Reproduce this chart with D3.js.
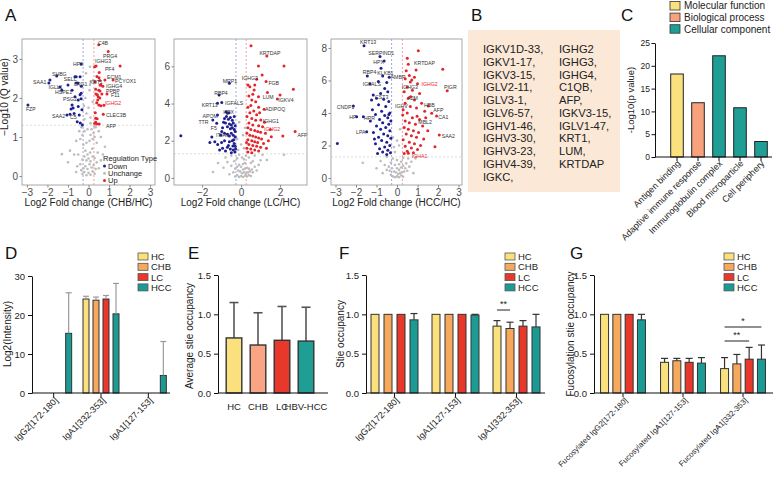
<!DOCTYPE html>
<html><head><meta charset="utf-8">
<script src="https://cdn.jsdelivr.net/npm/d3@7"></script>
<style>body{margin:0;background:#fff}svg{display:block;font-family:"Liberation Sans",Arial,sans-serif}</style>
</head><body><svg id="c" width="777" height="478"></svg>
<script>
// ---------------- DATA ----------------
// Volcano 1: CHB/HC  [log2FC, -log10Q]
const v1Down = [[-2.95,1.82],[-1.88,2.46],[-1.93,2.38],[-1.55,2.56],[-1.4,2.28],[-1.0,2.33],[-1.3,2.2],[-0.8,2.2],[-0.66,2.54],[-0.6,2.54],[-0.41,2.54],[-0.52,2.38],[-0.36,2.87],[-0.66,2.03],[-0.41,2.08],[-0.5,1.95],[-0.8,1.82],[-0.75,1.74],[-0.85,1.72],[-0.5,1.78],[-1.05,1.56],[-0.9,1.58],[-0.55,1.39],[-0.4,1.36],[-0.3,1.31],[-0.45,1.56],[-0.36,2.12],[-0.36,1.98],[-0.6,2.38],[-0.35,2.3],[-0.7,1.6],[-0.32,1.7]];
const v1Up = [[0.5,3.36],[0.96,3.19],[1.54,2.82],[0.37,2.82],[0.3,2.8],[0.52,2.65],[0.41,2.55],[0.8,2.46],[0.51,2.52],[0.55,2.45],[1.2,2.46],[0.32,2.41],[0.56,2.33],[0.7,2.3],[0.35,2.22],[0.5,2.2],[0.56,2.18],[0.36,2.1],[0.9,2.1],[0.43,2.08],[0.55,2.0],[0.45,1.95],[0.4,1.88],[0.5,1.82],[0.6,1.8],[0.75,1.81],[0.72,1.58],[0.35,1.48],[0.42,1.47],[0.35,1.38],[0.52,1.33],[0.4,1.33],[0.3,1.35],[0.47,2.03],[0.6,2.33],[0.33,1.62],[0.65,2.1]];
const v1Gray = [[-0.3,0.05],[-0.2,0.1],[-0.1,0.02],[0,0.08],[0.1,0.03],[0.2,0.12],[0.3,0.06],[-0.25,0.2],[-0.15,0.25],[-0.05,0.18],[0.05,0.3],[0.15,0.22],[0.25,0.28],[-0.35,0.15],[0.35,0.18],[-0.4,0.3],[0.4,0.35],[-0.1,0.4],[0,0.45],[0.1,0.38],[-0.2,0.5],[0.2,0.5],[-0.3,0.42],[0.3,0.46],[-0.05,0.55],[0.08,0.6],[-0.15,0.65],[0.18,0.7],[-0.5,0.55],[0.45,0.6],[-0.55,0.25],[0.5,0.2],[-0.6,0.1],[0.6,0.4],[-0.7,0.55],[0.7,0.55],[-0.9,0.65],[-1.0,0.35],[0.8,0.75],[-0.25,0.8],[-0.1,0.85],[0.05,0.9],[0.2,0.95],[0.3,1.0],[-0.3,1.05],[0.25,1.1],[-0.2,1.15],[0.15,1.2],[-0.35,1.25],[0.35,1.25],[0.4,0.85],[-0.4,0.95],[-0.6,0.9],[0.6,1.0],[-1.3,0.56],[0.5,1.15],[-0.45,1.15],[0.28,1.28],[0.1,1.05],[-0.05,1.2],[-0.2,1.45],[-0.1,1.6],[0,1.75],[0.1,1.5],[0.2,1.9],[-0.15,2.0],[0.05,2.2],[0.07,2.33],[-0.12,2.63],[0.07,2.8],[0.22,2.45],[-0.22,1.8],[0.1,1.35]];
const v1Labels = [["C4B",0.46,3.41,0],["PRG4",0.71,3.08,0],["IGHG3",0.32,2.95,0],["PF4",0.8,2.74,0],["ECM1",0.9,2.53,0],["PCYOX1",1.29,2.44,0],["KRT1",0.05,2.42,0],["IGHG4",0.85,2.3,0],["PPBP",0.85,2.18,0],["F11",1.1,2.07,0],["IGHG2",0.8,1.87,1],["CLEC3B",0.85,1.56,0],["AFP",0.85,1.28,0],["HPX",-0.76,2.87,0],["SHBG",-1.78,2.62,0],["SELL",-1.2,2.48,0],["SAA1",-2.7,2.41,0],["IGLL1",-1.95,2.28,0],["LRG1",-0.71,2.36,0],["HSPE1",-1.63,2.15,0],["PSG2",-1.24,1.97,0],["FZP",-3.05,1.72,0],["SAA2",-1.78,1.54,0],["C5",-0.9,1.51,0]];

// Volcano 2: LC/HC
const v2Down = [[-3.09,2.27],[-0.6,5.09],[-1.13,4.46],[-1.21,4.01],[-0.99,4.05],[-0.77,3.56],[-0.7,3.48],[-0.62,3.5],[-1.21,3.39],[-1.45,3.12],[-1.25,2.94],[-0.99,2.49],[-0.85,3.2],[-0.75,3.3],[-0.65,3.15],[-0.55,3.25],[-0.45,3.1],[-0.9,3.0],[-0.8,2.95],[-0.6,2.9],[-0.5,2.85],[-0.4,2.95],[-0.35,3.3],[-0.95,2.7],[-0.7,2.75],[-0.55,2.65],[-0.45,2.7],[-0.35,2.6],[-0.3,2.8],[-1.05,2.3],[-0.85,2.4],[-0.7,2.35],[-0.6,2.25],[-0.5,2.4],[-0.4,2.3],[-0.3,2.2],[-1.5,2.2],[-1.6,1.9],[-1.35,1.95],[-1.2,1.8],[-1.0,1.9],[-0.85,2.0],[-0.6,1.95],[-0.45,2.0],[-0.35,1.85],[-0.3,1.7],[-0.95,1.6],[-0.7,1.65],[-0.55,1.55],[-0.4,1.5],[-0.32,1.4],[-0.8,1.45],[-1.1,1.5],[-0.5,1.35],[-0.65,1.75],[-0.42,1.72],[-0.3,2.5],[-0.38,2.05],[-0.28,1.55]];
const v2Up = [[0.51,7.11],[1.32,6.56],[2.2,6.02],[0.89,6.02],[0.8,5.3],[1.08,5.54],[1.28,5.18],[2.68,4.77],[2.0,4.46],[0.67,4.73],[0.89,4.37],[1.86,4.25],[0.55,4.19],[1.18,3.69],[1.01,3.12],[2.77,2.49],[2.14,2.26],[1.55,2.22],[0.35,5.0],[0.45,4.9],[0.7,5.0],[0.6,4.5],[0.4,4.4],[0.75,4.1],[0.5,3.9],[0.35,3.8],[0.9,3.8],[0.65,3.6],[0.45,3.5],[0.8,3.4],[0.3,3.3],[0.55,3.2],[0.75,3.1],[1.2,3.0],[0.4,2.95],[0.6,2.85],[0.9,2.8],[1.1,2.75],[0.35,2.7],[0.5,2.6],[0.7,2.55],[0.85,2.5],[1.0,2.45],[1.25,2.4],[0.3,2.4],[0.45,2.3],[0.6,2.25],[0.75,2.2],[0.9,2.15],[1.05,2.1],[0.35,2.05],[0.55,2.0],[0.7,1.95],[0.85,1.9],[1.15,1.85],[0.4,1.8],[0.6,1.75],[0.8,1.7],[1.0,1.65],[0.3,1.6],[0.5,1.55],[0.7,1.5],[0.9,1.45],[0.35,1.4],[0.55,1.35],[1.3,1.6],[1.4,2.0],[1.5,2.6],[0.28,1.9],[0.95,3.5],[1.35,4.6]];
const v2Gray = [[-0.1,0.05],[0,0.1],[0.1,0.05],[0.2,0.12],[0.3,0.08],[0.4,0.15],[0.5,0.1],[-0.2,0.15],[-0.3,0.08],[0.05,0.25],[0.15,0.3],[0.25,0.22],[0.35,0.3],[0.45,0.35],[-0.05,0.35],[-0.15,0.4],[0.1,0.45],[0.2,0.5],[0.3,0.55],[0.4,0.5],[0.55,0.45],[0.6,0.3],[0,0.6],[-0.1,0.7],[0.1,0.75],[0.2,0.8],[-0.2,0.6],[-0.3,0.5],[-0.4,0.3],[0.7,0.6],[0.8,0.4],[-0.5,0.65],[0.5,0.8],[0.6,0.9],[-0.35,0.9],[0.15,1.0],[0.05,1.1],[-0.2,1.05],[0.25,1.2],[0.4,1.1],[-0.1,1.25],[0.9,0.7],[1.0,0.95],[1.32,0.97],[-0.7,0.85],[-0.9,0.55],[-1.18,0.8],[-1.44,0.32],[-0.6,0.2],[-0.8,1.1],[-0.5,1.2],[0.7,1.2],[1.1,1.25],[2.2,1.24],[-0.15,1.5],[0,1.8],[0.1,2.3],[-0.2,2.1],[0.2,2.7],[-0.1,3.0],[0.15,1.6]];
const v2Labels = [["KRTDAP",0.94,6.74,0],["MRP1",-0.94,5.21,0],["IGHG3",0.04,5.36,0],["FGB",1.4,5.09,0],["RBP4",-1.38,4.59,0],["LUM",1.11,4.34,0],["IGKV4",1.91,4.19,0],["KRT13",-2.02,3.92,0],["IGFALS",-0.82,4.05,0],["APOM",-1.98,3.33,0],["HPX",-0.91,3.56,0],["ADIPOQ",1.23,3.69,0],["TTR",-2.19,3.03,0],["IGHG1",1.11,3.08,0],["F5",-1.55,2.7,0],["ITIH3",-1.28,2.31,0],["IGHG2",1.18,2.62,1],["AFP",2.89,2.31,0]];

// Volcano 3: HCC/HC
const v3Down = [[-1.61,8.14],[-0.83,7.47],[-0.63,7.2],[-0.78,6.75],[-1.45,6.28],[-0.7,6.28],[-1.32,5.78],[-0.91,5.93],[-0.5,5.87],[-0.38,6.2],[-1.16,5.1],[-1.24,4.8],[-2.13,4.43],[-1.97,3.77],[-1.64,3.77],[-1.48,2.85],[-2.91,2.13],[-0.6,5.5],[-0.45,5.3],[-0.8,5.2],[-1.0,4.9],[-0.65,4.85],[-0.4,4.7],[-0.9,4.5],[-0.55,4.4],[-1.2,4.2],[-0.75,4.1],[-0.35,4.0],[-1.05,3.9],[-0.6,3.85],[-0.45,3.7],[-0.85,3.6],[-1.3,3.5],[-0.7,3.4],[-0.4,3.3],[-1.0,3.2],[-0.55,3.1],[-0.8,3.0],[-0.35,2.9],[-1.15,2.8],[-0.65,2.7],[-0.45,2.6],[-0.9,2.5],[-0.3,2.45],[-0.75,2.3],[-0.5,2.2],[-1.05,2.1],[-0.35,2.0],[-0.6,1.9],[-0.85,1.8],[-0.45,1.7],[-0.7,1.6],[-0.32,1.55],[-0.5,1.45],[-0.95,1.5],[-0.4,3.9],[-0.3,3.5],[-1.1,2.4]];
const v3Up = [[1.04,7.83],[0.5,7.36],[0.93,6.65],[2.23,6.69],[0.72,6.03],[0.65,5.9],[2.45,5.37],[0.67,5.0],[1.53,4.43],[1.69,3.98],[1.93,3.82],[2.06,2.65],[1.85,1.93],[0.55,1.52],[0.28,3.88],[0.98,3.8],[0.55,7.0],[0.45,6.6],[0.6,6.3],[0.4,6.1],[0.85,6.2],[1.0,5.8],[0.5,5.6],[0.75,5.4],[0.35,5.3],[1.1,5.2],[0.55,4.9],[0.85,4.8],[0.4,4.6],[1.2,4.6],[0.65,4.4],[0.95,4.3],[0.3,4.2],[1.35,4.1],[0.5,4.0],[0.75,3.7],[1.1,3.6],[0.4,3.5],[0.6,3.4],[0.9,3.3],[1.25,3.2],[0.35,3.1],[0.55,3.0],[0.8,2.9],[1.05,2.8],[0.45,2.7],[0.7,2.6],[0.95,2.5],[1.3,2.4],[0.3,2.35],[0.6,2.2],[0.85,2.1],[1.15,2.0],[0.4,1.95],[0.7,1.85],[1.0,1.75],[0.5,1.65],[0.8,1.55],[0.35,1.5],[1.4,3.7],[1.5,2.9]];
const v3Gray = [[-0.1,0.05],[0,0.1],[0.1,0.05],[0.2,0.15],[-0.2,0.1],[0.3,0.08],[-0.3,0.2],[0.05,0.25],[0.15,0.3],[-0.05,0.35],[0.25,0.35],[-0.15,0.4],[0.35,0.4],[-0.35,0.45],[0.1,0.5],[0,0.6],[-0.25,0.6],[0.2,0.65],[0.4,0.6],[-0.4,0.7],[0.3,0.75],[-0.1,0.8],[0.1,0.85],[-0.5,0.5],[0.5,0.45],[0.6,0.7],[-0.6,0.8],[0.45,0.9],[-0.3,0.95],[0.2,1.0],[0,1.1],[-0.2,1.2],[0.3,1.25],[0.7,1.0],[-0.8,1.05],[0.9,1.2],[-1.0,0.6],[-1.67,0.94],[0.93,1.31],[-0.5,1.3],[0.55,1.2],[-0.7,0.3],[0.8,0.3],[-0.1,1.6],[0.1,2.0],[-0.2,2.5],[0.15,3.0],[0,2.3],[-0.15,1.9]];
const v3Labels = [["KRT13",-1.8,8.39,0],["SERPIND1",-1.4,7.67,0],["HPX",-1.16,7.16,0],["RBP4",-1.67,6.54,0],["KLKB1",-0.96,6.48,0],["AMBP",-0.31,6.2,0],["IGFALS",-1.67,5.78,0],["CST3",-1.07,5.0,0],["CNDP1",-2.94,4.35,0],["HP",-2.33,3.73,0],["HPR",-1.61,3.67,0],["LPA",-2.0,2.85,0],["KRTDAP",0.83,7.06,0],["IGHG2",1.2,5.78,1],["IGHG3",0.23,5.62,0],["PIGR",2.29,5.58,0],["A2M",0.5,4.9,0],["IGHV",-0.1,4.43,0],["HBB",1.32,4.49,0],["AFP",1.77,4.18,0],["CA1",2.01,3.73,0],["MBL2",1.04,3.46,0],["SAA2",2.18,2.58,0],["IGHA1",0.72,1.35,1]];

// Panel B
const bCol1 = ["IGKV1D-33,","IGKV1-17,","IGKV3-15,","IGLV2-11,","IGLV3-1,","IGLV6-57,","IGHV1-46,","IGHV3-30,","IGHV3-23,","IGHV4-39,","IGKC,"];
const bCol2 = ["IGHG2","IGHG3,","IGHG4,","C1QB,","AFP,","IGKV3-15,","IGLV1-47,","KRT1,","LUM,","KRTDAP"];

// Panel C
const cTerms = ["Antigen binding","Adaptive immune response","Immunoglobulin complex","Blood microparticle","Cell periphery"];
const cValues = [18.2,11.9,22.2,10.8,3.4];
const cTypes = ["Molecular function","Biological process","Cellular component","Cellular component","Cellular component"];
const cTypeNames = ["Molecular function","Biological process","Cellular component"];

// Panels D-G
const groups4 = ["HC","CHB","LC","HCC"];
const dSites = ["IgG2[172-180]","IgA1[332-353]","IgA1[127-153]"];
const dMean = [[0,0,0,15.3],[24.1,23.8,24.1,20.3],[0,0,0,4.5]];
const dSD = [[0,0,0,10.4],[0.7,0.8,0.9,7.8],[0,0,0,8.7]];

const eGroups = ["HC","CHB","LC","HBV-HCC"];
const eMean = [0.70,0.61,0.67,0.66];
const eSD = [0.45,0.41,0.43,0.43];

const fSites = ["IgG2[172-180]","IgA1[127-153]","IgA1[332-353]"];
const fMean = [[1,1,1,0.93],[1,1,1,0.99],[0.85,0.82,0.85,0.84]];
const fSD = [[0,0,0,0.08],[0,0,0,0.01],[0.07,0.08,0.07,0.16]];

const gSites = ["Fucosylated IgG2[172-180]","Fucosylated IgA1[127-153]","Fucosylated IgA1[332-353]"];
const gMean = [[1,1,1,0.93],[0.39,0.41,0.39,0.38],[0.31,0.37,0.43,0.43]];
const gSD = [[0,0,0,0.07],[0.05,0.03,0.05,0.07],[0.14,0.12,0.15,0.18]];

// ---------------- DRAW ----------------
const svg = d3.select("#c");
const FONT = '"Liberation Sans",Arial,sans-serif';
const COL4 = ["#fbe17d","#f6a95c","#e8372b","#1b9b94"];
const BLUE = "#1f1f8f", RED = "#e3262b", GRAY = "#bdbdbd";

function letter(t,x,y){svg.append("text").attr("x",x).attr("y",y).attr("font-size",17).attr("fill","#111").text(t);}
letter("A",5,21); letter("B",471,21); letter("C",621,21);
letter("D",5,259); letter("E",188,259); letter("F",339,259); letter("G",570,259);

function volcano(cfg){
  const x = d3.scaleLinear().domain(cfg.xd).range([cfg.l,cfg.r]);
  const y = d3.scaleLinear().domain(cfg.yd).range([185,39]);
  const g = svg.append("g");
  const clip = "clip"+cfg.id;
  svg.append("clipPath").attr("id",clip).append("rect").attr("x",cfg.l).attr("y",39).attr("width",cfg.r-cfg.l).attr("height",146);
  const inner = g.append("g").attr("clip-path",`url(#${clip})`);
  inner.append("line").attr("x1",x(-0.263)).attr("x2",x(-0.263)).attr("y1",39).attr("y2",185).attr("stroke","#8c8cdc").attr("stroke-dasharray","2,2").attr("stroke-width",0.8);
  inner.append("line").attr("x1",x(0.263)).attr("x2",x(0.263)).attr("y1",39).attr("y2",185).attr("stroke","#ef8a8a").attr("stroke-dasharray","2,2").attr("stroke-width",0.8);
  inner.append("line").attr("x1",cfg.l).attr("x2",cfg.r).attr("y1",y(1.3)).attr("y2",y(1.3)).attr("stroke","#d6d6d6").attr("stroke-dasharray","2,2").attr("stroke-width",0.8);
  const pts = (arr,c,r)=>inner.append("g").selectAll("circle").data(arr).join("circle").attr("cx",d=>x(d[0])).attr("cy",d=>y(d[1])).attr("r",r).attr("fill",c);
  pts(cfg.gray,GRAY,1.3); pts(cfg.down,BLUE,1.5); pts(cfg.up,RED,1.5);
  g.append("g").selectAll("text").data(cfg.labels).join("text").attr("x",d=>x(d[1])).attr("y",d=>y(d[2])+2).attr("font-size",5.2).attr("fill",d=>d[3]?"#e3262b":"#333").text(d=>d[0]);
  g.append("rect").attr("x",cfg.l).attr("y",39).attr("width",cfg.r-cfg.l).attr("height",146).attr("fill","none").attr("stroke","#a8a8a8").attr("stroke-width",1);
  const ax = g.append("g").attr("transform","translate(0,185)").call(d3.axisBottom(x).tickValues(cfg.xt).tickSize(2.5).tickSizeOuter(0).tickFormat(d3.format("d")));
  const ay = g.append("g").attr("transform",`translate(${cfg.l},0)`).call(d3.axisLeft(y).tickValues(cfg.yt).tickSize(2.5).tickSizeOuter(0).tickFormat(d3.format("d")));
  [ax,ay].forEach(a=>{a.select(".domain").remove();a.selectAll("line").attr("stroke","#888");a.selectAll("text").attr("fill","#4d4d4d").attr("font-size",10).attr("font-family",FONT);});
  ax.selectAll("text").attr("y",4).attr("dy","0.71em");
  ay.selectAll("text").attr("x",-4);
  g.append("text").attr("x",(cfg.l+cfg.r)/2).attr("y",206).attr("text-anchor","middle").attr("font-size",10).attr("fill","#222").text(cfg.title);
}
volcano({id:1,l:22,r:155,xd:[-3.24,3.24],yd:[-0.23,3.51],xt:[-3,-2,-1,0,1,2,3],yt:[0,1,2,3],down:v1Down,up:v1Up,gray:v1Gray,labels:v1Labels,title:"Log2 Fold change (CHB/HC)"});
volcano({id:2,l:174,r:307,xd:[-3.44,3.38],yd:[-0.38,7.47],xt:[-2,0,2],yt:[0,2,4,6],down:v2Down,up:v2Up,gray:v2Gray,labels:v2Labels,title:"Log2 Fold change (LC/HC)"});
volcano({id:3,l:331,r:462,xd:[-3.22,3.17],yd:[-0.43,8.55],xt:[-3,-2,-1,0,1,2,3],yt:[0,2,4,6,8],down:v3Down,up:v3Up,gray:v3Gray,labels:v3Labels,title:"Log2 Fold change (HCC/HC)"});
svg.append("text").attr("transform","translate(8,97) rotate(-90)").attr("text-anchor","middle").attr("font-size",10).attr("fill","#222").text("\u2212Log10 (Q value)");
// volcano legend
const vl = svg.append("g");
vl.append("text").attr("x",103).attr("y",161).attr("font-size",7.5).attr("fill","#222").text("Regulation Type");
[["Down",BLUE],["Unchange",GRAY],["Up",RED]].forEach((d,i)=>{
  vl.append("circle").attr("cx",104.5).attr("cy",166+i*7.2).attr("r",1.5).attr("fill",d[1]);
  vl.append("text").attr("x",108).attr("y",168.7+i*7.2).attr("font-size",7.5).attr("fill","#222").text(d[0]);
});

// Panel B
svg.append("rect").attr("x",468).attr("y",30).attr("width",152).attr("height",162).attr("fill","#fce8d6");
const bt = svg.append("g").attr("font-size",11.2).attr("fill","#222");
bt.selectAll("t1").data(bCol1).join("text").attr("x",483).attr("y",(d,i)=>53+i*12.75).text(d=>d);
bt.selectAll("t2").data(bCol2).join("text").attr("x",559).attr("y",(d,i)=>53+i*12.75).text(d=>d);

// Axis styling helper
function styleAxis(a,fs){a.selectAll("path,line").attr("stroke","#111").attr("stroke-width",1);a.selectAll("text").attr("fill","#222").attr("font-size",fs||9).attr("font-family",FONT);}

// Panel C
(function(){
  const cCol = d3.scaleOrdinal().domain(cTypeNames).range(["#fbe17d","#f7a27d","#1f9e96"]);
  const x = d3.scalePoint().domain(cTerms).range([666.5,771.5]).padding(0.5);
  const y = d3.scaleLinear().domain([0,25]).range([157,43]);
  const g = svg.append("g");
  g.selectAll("rect").data(cTerms).join("rect").attr("x",d=>x(d)-6.3).attr("width",12.6).attr("y",(d,i)=>y(cValues[i])).attr("height",(d,i)=>y(0)-y(cValues[i])).attr("fill",(d,i)=>cCol(cTypes[i])).attr("stroke","#222").attr("stroke-width",1);
  const ay = g.append("g").attr("transform","translate(655,0)").call(d3.axisLeft(y).ticks(5).tickSize(3.5).tickSizeOuter(0));
  styleAxis(ay,8.5);
  ay.selectAll("text").attr("x",-5);
  g.append("line").attr("x1",655).attr("x2",772).attr("y1",157).attr("y2",157).attr("stroke","#111");
  g.selectAll(".ct").data(cTerms).join("line").attr("x1",d=>x(d)).attr("x2",d=>x(d)).attr("y1",157).attr("y2",161).attr("stroke","#111");
  g.selectAll(".cl").data(cTerms).join("text").attr("transform",d=>`translate(${x(d)+4},164) rotate(-45)`).attr("text-anchor","end").attr("font-size",9).attr("fill","#222").text(d=>d);
  g.append("text").attr("transform","translate(634,100) rotate(-90)").attr("text-anchor","middle").attr("font-size",9.5).attr("fill","#222").text("-Log10(p value)");
  cTypeNames.forEach((t,i)=>{
    g.append("rect").attr("x",670).attr("y",1.5+i*11.6).attr("width",10).attr("height",8.5).attr("fill",cCol(t)).attr("stroke","#333").attr("stroke-width",0.8);
    g.append("text").attr("x",684).attr("y",9.3+i*11.6).attr("font-size",10).attr("fill","#222").text(t);
  });
})();

function legend4(x0){
  const g = svg.append("g");
  groups4.forEach((s,i)=>{
    g.append("rect").attr("x",x0).attr("y",253+i*10.3).attr("width",10).attr("height",7).attr("fill",COL4[i]).attr("stroke","#555").attr("stroke-width",0.8);
    g.append("text").attr("x",x0+13).attr("y",260+i*10.3).attr("font-size",9.5).attr("fill","#222").text(s);
  });
}

function grouped(cfg){
  const g = svg.append("g");
  const y = d3.scaleLinear().domain([0,cfg.max]).range([393,cfg.top]);
  const gx = d3.scalePoint().domain(cfg.sites).range(cfg.range).padding(0.5);
  const sx = d3.scalePoint().domain(groups4).range([-1.5*cfg.step,1.5*cfg.step]);
  cfg.sites.forEach((site,gi)=>{
    groups4.forEach((s,si)=>{
      const m = cfg.mean[gi][si], sd = cfg.sd[gi][si], cx = gx(site)+sx(s);
      if(m>0) g.append("rect").attr("x",cx-cfg.bw/2).attr("width",cfg.bw).attr("y",y(m)).attr("height",y(0)-y(m)).attr("fill",COL4[si]).attr("stroke","#333").attr("stroke-width",1);
      if(sd>0){
        g.append("line").attr("x1",cx).attr("x2",cx).attr("y1",y(m)).attr("y2",y(m+sd)).attr("stroke",cfg.ec).attr("stroke-width",1.2);
        g.append("line").attr("x1",cx-cfg.cap).attr("x2",cx+cfg.cap).attr("y1",y(m+sd)).attr("y2",y(m+sd)).attr("stroke",cfg.ec).attr("stroke-width",1.2);
      }
    });
  });
  const ay = g.append("g").attr("transform",`translate(${cfg.ax},0)`).call(d3.axisLeft(y).tickValues(cfg.ticks).tickFormat(cfg.fmt).tickSize(4).tickSizeOuter(0));
  styleAxis(ay,9.5);
  g.append("line").attr("x1",cfg.ax).attr("x2",cfg.xe).attr("y1",393).attr("y2",393).attr("stroke","#111");
  g.selectAll(".tk").data(cfg.sites).join("line").attr("x1",d=>gx(d)).attr("x2",d=>gx(d)).attr("y1",393).attr("y2",397).attr("stroke","#111");
  g.selectAll(".lb").data(cfg.sites).join("text").attr("transform",d=>`translate(${gx(d)+5},401) rotate(-45)`).attr("text-anchor","end").attr("font-size",cfg.lfs).attr("fill","#222").text(d=>d);
  g.append("text").attr("transform",`translate(${cfg.tx},334) rotate(-90)`).attr("text-anchor","middle").attr("font-size",10).attr("fill","#222").text(cfg.title);
  return {gx,sx,y};
}

// D
grouped({sites:dSites,mean:dMean,sd:dSD,max:30,top:276,range:[30,172],step:10,bw:6,ax:32,xe:170,ticks:[0,10,20,30],fmt:d3.format("d"),ec:"#9a9a9a",cap:3,lfs:9,tx:11,title:"Log2(Intensity)"});
legend4(138);

// E
(function(){
  const g = svg.append("g");
  const y = d3.scaleLinear().domain([0,1.5]).range([393,275]);
  const x = d3.scalePoint().domain(eGroups).range([222,318]).padding(0.5);
  const eCol = ["#fbe17d","#f9a482","#e8372b","#1f9e96"];
  eGroups.forEach((s,i)=>{
    const cx = x(s);
    g.append("line").attr("x1",cx).attr("x2",cx).attr("y1",y(eMean[i])).attr("y2",y(eMean[i]+eSD[i])).attr("stroke","#555").attr("stroke-width",1.6);
    g.append("line").attr("x1",cx-4.5).attr("x2",cx+4.5).attr("y1",y(eMean[i]+eSD[i])).attr("y2",y(eMean[i]+eSD[i])).attr("stroke","#555").attr("stroke-width",1.6);
    g.append("rect").attr("x",cx-7.8).attr("width",15.6).attr("y",y(eMean[i])).attr("height",y(0)-y(eMean[i])).attr("fill",eCol[i]).attr("stroke","#333").attr("stroke-width",1.4);
  });
  const ay = g.append("g").attr("transform","translate(218,0)").call(d3.axisLeft(y).tickValues([0,0.5,1,1.5]).tickFormat(d3.format(".1f")).tickSize(4).tickSizeOuter(0));
  styleAxis(ay,9.5);
  g.append("line").attr("x1",218).attr("x2",328).attr("y1",393).attr("y2",393).attr("stroke","#111");
  g.selectAll(".el").data(eGroups).join("text").attr("x",d=>x(d)).attr("y",410).attr("text-anchor","middle").attr("font-size",9.5).attr("fill","#222").text(d=>d);
  g.append("text").attr("transform","translate(193,336) rotate(-90)").attr("text-anchor","middle").attr("font-size",10).attr("fill","#222").text("Average stie occupancy");
})();

// F
(function(){
  const r = grouped({sites:fSites,mean:fMean,sd:fSD,max:1.5,top:275,range:[364,547],step:13,bw:8,ax:366,xe:545,ticks:[0,0.5,1,1.5],fmt:d3.format(".1f"),ec:"#333",cap:3.5,lfs:9,tx:344,title:"Stie occupancy"});
  const s = fSites[2], a = r.gx(s)+r.sx("HC"), b = r.gx(s)+r.sx("CHB");
  svg.append("line").attr("x1",a).attr("x2",b).attr("y1",310).attr("y2",310).attr("stroke","#222");
  svg.append("text").attr("x",(a+b)/2).attr("y",307).attr("text-anchor","middle").attr("font-size",9).attr("fill","#222").text("**");
  legend4(505);
})();

// G
(function(){
  const r = grouped({sites:gSites,mean:gMean,sd:gSD,max:1.5,top:275,range:[593,773],step:12.3,bw:8,ax:594,xe:773,ticks:[0,0.5,1,1.5],fmt:d3.format(".1f"),ec:"#333",cap:3.5,lfs:7.8,tx:574,title:"Fucosylation stie occupancy"});
  const s = gSites[2], a = r.gx(s)+r.sx("HC"), c = r.gx(s)+r.sx("LC"), d = r.gx(s)+r.sx("HCC");
  svg.append("line").attr("x1",a).attr("x2",d).attr("y1",327).attr("y2",327).attr("stroke","#222");
  svg.append("text").attr("x",(a+d)/2).attr("y",324).attr("text-anchor","middle").attr("font-size",9).attr("fill","#222").text("*");
  svg.append("line").attr("x1",a).attr("x2",c).attr("y1",341).attr("y2",341).attr("stroke","#222");
  svg.append("text").attr("x",(a+c)/2).attr("y",338).attr("text-anchor","middle").attr("font-size",9).attr("fill","#222").text("**");
  legend4(724);
})();
</script></body></html>
